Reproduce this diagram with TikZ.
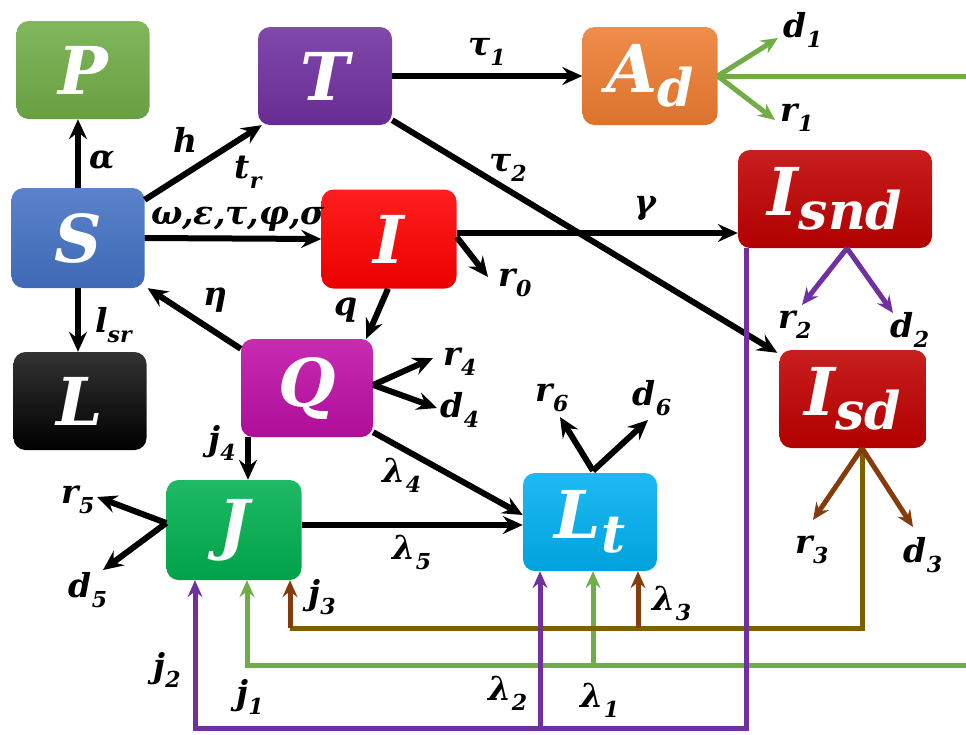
\documentclass[tikz,border=0pt]{standalone}
\usepackage{fontspec}
\setmainfont{DejaVu Serif}
\usetikzlibrary{arrows.meta}
\definecolor{cP}{HTML}{70AD47}
\definecolor{cT}{HTML}{7030A0}
\definecolor{cA}{HTML}{ED7D31}
\definecolor{cS}{HTML}{4472C4}
\definecolor{cI}{HTML}{FF0000}
\definecolor{cIs}{HTML}{C00000}
\definecolor{cQ}{HTML}{BE0FA6}
\definecolor{cJ}{HTML}{00B050}
\definecolor{cLt}{HTML}{00B0F0}
\definecolor{cLb}{HTML}{000000}
\definecolor{gline}{HTML}{70AD47}
\definecolor{pline}{HTML}{7030A0}
\definecolor{oline}{HTML}{7F6000}
\definecolor{bline}{HTML}{843C0C}
\newcommand\boxfnt{\fontsize{66}{66}\selectfont\bfseries\itshape}
\newcommand\labfnt{\fontsize{33}{33}\selectfont\bfseries\itshape}
\newcommand\bsub[1]{\raisebox{-0.22em}{\fontsize{52}{52}\selectfont #1}}
\newcommand\lsub[1]{\raisebox{-0.3em}{\fontsize{22}{22}\selectfont #1}}
\tikzset{
  box/.style={rectangle, rounded corners=12pt, inner sep=0pt, text=white, font=\boxfnt,
    minimum width=133pt, minimum height=98pt, top color=#1!88!white, bottom color=#1!92!black},
  arr/.style={line width=6pt, -{Stealth[length=20pt,width=18pt,inset=7pt]}},
  carr/.style={line width=5pt, -{Stealth[length=17pt,width=15pt,inset=6pt]}},
  cline/.style={line width=5pt},
  lbl/.style={font=\labfnt, inner sep=0pt},
}
\begin{document}
\begin{tikzpicture}[x=1pt,y=-1pt]
\useasboundingbox (0,0) rectangle (966,734);
% boxes
\node[box=cP] (P) at (83,70) {P};
\node[box=cT, minimum width=134pt] (T) at (325,76) {T};
\node[box=cA, minimum width=135pt] (Ad) at (650,76) {A\bsub{d}};
\node[box=cS, minimum height=100pt] (S) at (78,238) {S};
\node[box=cI, minimum width=135pt, minimum height=99pt] (I) at (389,239) {I};
\node[box=cIs, minimum width=194pt] (Isnd) at (835,199) {I\bsub{snd}};
\node[box=cLb, top color=black!80] (L) at (80,401) {L};
\node[box=cQ, minimum width=132pt] (Q) at (307,388) {Q};
\node[box=cIs, minimum width=147pt] (Isd) at (853,399) {I\bsub{sd}};
\node[box=cJ, minimum width=135pt, minimum height=100pt] (J) at (234,530) {J};
\node[box=cLt, minimum width=134pt] (Lt) at (590,522) {L\bsub{t}};
% free end points
\coordinate (r0t) at (488,277);
\coordinate (r4t) at (433,358);
\coordinate (d4t) at (437,408);
\coordinate (r5t) at (97,497);
\coordinate (d5t) at (103,570);
\coordinate (r6t) at (560,417);
\coordinate (d6t) at (648,420);
\coordinate (d1t) at (778,38);
\coordinate (r1t) at (775,120);
\coordinate (gTop) at (966,76);
\coordinate (r2t) at (802,305);
\coordinate (d2t) at (893,313);
\coordinate (r3t) at (813,520);
\coordinate (d3t) at (913,527);
\coordinate (pbL) at (195,728);
\coordinate (pbM) at (540,728);
\coordinate (gR) at (966,665);
\coordinate (gL) at (247,665);
\coordinate (gM) at (593,665);
\coordinate (oL) at (290,628);
\coordinate (oM) at (638,628);
\coordinate (qj) at (248,437);
\coordinate (ie) at (457,233);
% black arrows
\draw[arr] (S.north) -- (S.north |- P.south);
\draw[arr] ([yshift=-12pt]S.north east) -- ([xshift=4pt]T.south west);
\draw[arr] (S.east) -- (I.west);
\draw[arr] (S.south) -- (S.south |- L.north);
\draw[arr] ([yshift=-10pt]Q.north west) -- ([xshift=3pt]S.south east);
\draw[arr] (T.east) -- (Ad.west);
\draw[arr] ([yshift=5pt]T.south east) -- ([xshift=-2pt,yshift=-3pt]Isd.north west);
\draw[arr] (ie) -- (ie -| Isnd.west);
\draw[arr] ([yshift=2pt]I.east) -- (r0t);
\draw[arr] ([xshift=-1pt]I.south) -- ([xshift=-7pt]Q.north east);
\draw[arr] ([yshift=3pt]Q.east) -- (r4t);
\draw[arr] ([yshift=3pt]Q.east) -- (d4t);
\draw[arr] ([yshift=5pt]Q.south east) -- ([yshift=7pt]Lt.west);
\draw[arr] ([yshift=5pt]J.east) -- ([yshift=5pt]J.east -| Lt.west);
\draw[arr] (qj) -- (qj |- J.north);
\draw[arr] ([yshift=7pt]J.west) -- (r5t);
\draw[arr] ([yshift=7pt]J.west) -- (d5t);
\draw[arr] ([xshift=3pt,yshift=2pt]Lt.north) -- (r6t);
\draw[arr] ([xshift=3pt,yshift=2pt]Lt.north) -- (d6t);
% green
\draw[carr, gline] (Ad.east) -- (d1t);
\draw[carr, gline] (Ad.east) -- (r1t);
\draw[cline, gline] (Ad.east) -- (gTop);
\draw[carr, gline] (gR) -- (gL) -- (gL |- J.south);
\draw[carr, gline] (gM) -- (gM |- Lt.south);
% olive / brown
\draw[cline, oline] ([xshift=9pt]Isd.south) |- (oL);
\draw[carr, bline] (oL) -- (oL |- J.south);
\draw[carr, bline] (oM) -- (oM |- Lt.south);
\draw[carr, bline] ([xshift=9pt]Isd.south) -- (r3t);
\draw[carr, bline] ([xshift=9pt]Isd.south) -- (d3t);
% purple
\draw[carr, pline] ([xshift=9pt]Isnd.south west) |- (pbL) -- (pbL |- J.south);
\draw[carr, pline] (pbM) -- (pbM |- Lt.south);
\draw[carr, pline] ([xshift=12pt]Isnd.south) -- (r2t);
\draw[carr, pline] ([xshift=12pt]Isnd.south) -- (d2t);
% labels
\node[lbl] (la) at (102,160) {α};
\node[lbl] (lh) at (185,140) {h};
\node[lbl] (ltr) at (248,172) {t\lsub{r}};
\node[lbl] (lom) at (238,219) {ω,ε,τ,φ,σ};
\node[lbl, anchor=west] (llsr) at (95,325) {l\lsub{sr}};
\node[lbl] (leta) at (215,300) {η};
\node[lbl] (lq) at (346,310) {q};
\node[lbl] (lt1) at (487,52) {τ\lsub{1}};
\node[lbl] (lt2) at (508,168) {τ\lsub{2}};
\node[lbl] (lg) at (645,208) {γ};
\node[lbl] (lr0) at (515,283) {r\lsub{0}};
\node[lbl] (lr4) at (460,362) {r\lsub{4}};
\node[lbl] (ld4) at (460,410) {d\lsub{4}};
\node[lbl] (lj4) at (222,443) {j\lsub{4}};
\node[lbl] (ll4) at (402,475) {λ\lsub{4}};
\node[lbl] (ll5) at (412,552) {λ\lsub{5}};
\node[lbl] (lr5) at (78,500) {r\lsub{5}};
\node[lbl] (ld5) at (88,590) {d\lsub{5}};
\node[lbl] (lr6) at (552,398) {r\lsub{6}};
\node[lbl] (ld6) at (652,398) {d\lsub{6}};
\node[lbl] (ld1) at (803,30) {d\lsub{1}};
\node[lbl] (lr1) at (797,118) {r\lsub{1}};
\node[lbl] (lr2) at (795,325) {r\lsub{2}};
\node[lbl] (ld2) at (910,330) {d\lsub{2}};
\node[lbl] (lr3) at (812,550) {r\lsub{3}};
\node[lbl] (ld3) at (923,555) {d\lsub{3}};
\node[lbl] (lj2) at (167,670) {j\lsub{2}};
\node[lbl] (ll2) at (508,693) {λ\lsub{2}};
\node[lbl] (lj1) at (250,697) {j\lsub{1}};
\node[lbl] (ll1) at (600,700) {λ\lsub{1}};
\node[lbl] (lj3) at (322,597) {j\lsub{3}};
\node[lbl] (ll3) at (672,603) {λ\lsub{3}};
\end{tikzpicture}
\end{document}
